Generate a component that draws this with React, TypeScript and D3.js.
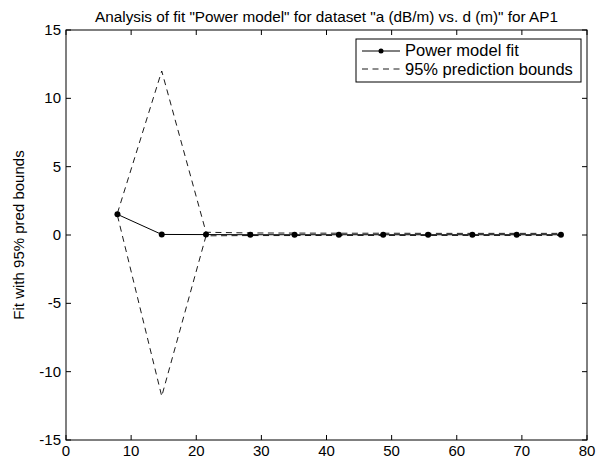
import React from 'react';
import * as d3 from 'd3';

// distance (m) and fitted values
const distances = [7.9, 14.7, 21.5, 28.3, 35.1, 41.9, 48.7, 55.6, 62.4, 69.2, 76.0];
const fitValues = [1.51, 0.04, 0.03, 0.02, 0.02, 0.02, 0.02, 0.02, 0.02, 0.02, 0.02];
const upperBounds = [1.6, 12.0, 0.2, 0.15, 0.14, 0.13, 0.13, 0.12, 0.12, 0.12, 0.12];
const lowerBounds = [1.42, -11.8, -0.06, -0.04, -0.04, -0.03, -0.03, -0.03, -0.03, -0.03, -0.03];
const xTicks = [0, 10, 20, 30, 40, 50, 60, 70, 80];
const yTicks = [-15, -10, -5, 0, 5, 10, 15];
const legendLabels = ['Power model fit', '95% prediction bounds'];

const W = 615;
const H = 468;
const margin = { top: 30, right: 28, bottom: 28, left: 66 };
const font = 'Liberation Sans, Arial, Helvetica, sans-serif';

export default function App() {
  const x = d3.scaleLinear().domain([0, 80]).range([margin.left, W - margin.right]);
  const y = d3.scaleLinear().domain([-15, 15]).range([H - margin.bottom, margin.top]);

  const line = d3.line<number>()
    .x((_, i) => x(distances[i]))
    .y(d => y(d));

  const x0 = x(0), x1 = x(80), y0 = y(-15), y1 = y(15);
  const tick = 5;
  const fs = 15;

  // legend box
  const lx = 356, ly = 39, lw = 225, lh = 43;

  return (
    <div style={{ position: 'absolute', left: 0, top: 0 }}>
      <svg width={W} height={H} style={{ display: 'block', background: '#fff' }} fontFamily={font}>
        <text x={(x0 + x1) / 2} y={22} textAnchor="middle" fontSize={15.3} fill="#000">
          Analysis of fit "Power model" for dataset "a (dB/m) vs. d (m)" for AP1
        </text>

        {/* ticks */}
        {xTicks.map(t => (
          <g key={'x' + t}>
            <line x1={x(t)} x2={x(t)} y1={y0} y2={y0 - tick} stroke="#000" />
            <line x1={x(t)} x2={x(t)} y1={y1} y2={y1 + tick} stroke="#000" />
            <text x={x(t)} y={y0 + 16} textAnchor="middle" fontSize={fs} fill="#000">{t}</text>
          </g>
        ))}
        {yTicks.map(t => (
          <g key={'y' + t}>
            <line x1={x0} x2={x0 + tick} y1={y(t)} y2={y(t)} stroke="#000" />
            <line x1={x1} x2={x1 - tick} y1={y(t)} y2={y(t)} stroke="#000" />
            <text x={x0 - 5} y={y(t) + 5} textAnchor="end" fontSize={fs} fill="#000">{t}</text>
          </g>
        ))}

        <text transform={`translate(24, ${(y0 + y1) / 2}) rotate(-90)`} textAnchor="middle" fontSize={fs} fill="#000">
          Fit with 95% pred bounds
        </text>

        {/* bounds */}
        <path d={line(upperBounds) ?? ''} fill="none" stroke="#000" strokeWidth={0.9} strokeDasharray="6,4.5" />
        <path d={line(lowerBounds) ?? ''} fill="none" stroke="#000" strokeWidth={0.9} strokeDasharray="6,4.5" />

        {/* fit */}
        <path d={line(fitValues) ?? ''} fill="none" stroke="#000" strokeWidth={1} />
        {fitValues.map((v, i) => (
          <circle key={i} cx={x(distances[i])} cy={y(v)} r={3} fill="#000" />
        ))}

        {/* frame */}
        <rect x={x0} y={y1} width={x1 - x0} height={y0 - y1} fill="none" stroke="#000" strokeWidth={1} />

        {/* legend */}
        <rect x={lx} y={ly} width={lw} height={lh} fill="#fff" stroke="#000" strokeWidth={1} />
        <line x1={lx + 6} x2={lx + 44} y1={ly + 12} y2={ly + 12} stroke="#000" />
        <circle cx={lx + 25} cy={ly + 12} r={2.5} fill="#000" />
        <text x={lx + 49} y={ly + 17} fontSize={16.5} fill="#000">{legendLabels[0]}</text>
        <line x1={lx + 6} x2={lx + 44} y1={ly + 30} y2={ly + 30} stroke="#000" strokeWidth={0.9} strokeDasharray="6,4.5" />
        <text x={lx + 49} y={ly + 36} fontSize={16.5} fill="#000">{legendLabels[1]}</text>
      </svg>
    </div>
  );
}
